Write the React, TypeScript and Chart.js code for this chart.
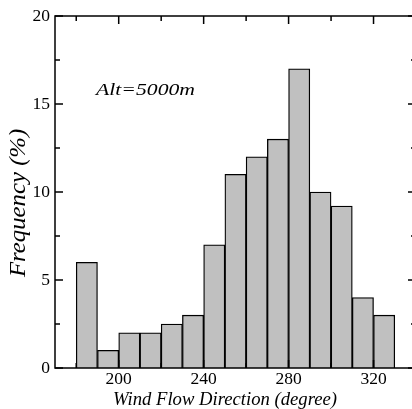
import { useEffect, useRef } from "react";
import { Chart, registerables } from "chart.js";

Chart.register(...registerables);

// ---- data ----
const binCenters = [185, 195, 205, 215, 225, 235, 245, 255, 265, 275, 285, 295, 305, 315, 325];
const frequency = [6, 1, 2, 2, 2.5, 3, 7, 11, 12, 13, 17, 10, 9.2, 4, 3];
const xTickLabels = [200, 240, 280, 320];
const xMinorTicks = [180, 220, 260, 300];
const yTickLabels = [0, 5, 10, 15, 20];
const yMinorTicks = [2.5, 7.5, 12.5, 17.5];
const xTitle = "Wind Flow Direction (degree)";
const yTitle = "Frequency (%)";
const annotation = "Alt=5000m";

const SERIF = "'Times New Roman', 'Liberation Serif', Times, serif";
Chart.defaults.font.family = SERIF;

function drawScaledText(
  ctx: CanvasRenderingContext2D,
  text: string,
  x: number,
  y: number,
  size: number,
  targetWidth: number | null,
  align: "left" | "center",
  measureText?: string
) {
  ctx.save();
  ctx.font = `italic ${size}px ${SERIF}`;
  ctx.fillStyle = "#000";
  ctx.textBaseline = "alphabetic";
  const w = ctx.measureText(measureText ?? text).width;
  const sx = targetWidth ? targetWidth / w : 1;
  ctx.translate(x, y);
  ctx.scale(sx, 1);
  ctx.textAlign = align;
  ctx.fillText(text, 0, 0);
  ctx.restore();
}

const framePlugin = {
  id: "frame",
  afterDraw(chart: any) {
    const { ctx, chartArea } = chart;
    const xs = chart.scales.x;
    const ys = chart.scales.y;
    const { left, right, top, bottom } = chartArea;
    ctx.save();
    ctx.strokeStyle = "#000";
    ctx.lineWidth = 1.5;
    ctx.strokeRect(left, top, right - left, bottom - top);
    ctx.beginPath();
    const major = 8;
    const minor = 5;
    for (const v of yTickLabels) {
      const p = ys.getPixelForValue(v);
      ctx.moveTo(left, p);
      ctx.lineTo(left + major, p);
      ctx.moveTo(right, p);
      ctx.lineTo(right - major, p);
    }
    for (const v of yMinorTicks) {
      const p = ys.getPixelForValue(v);
      ctx.moveTo(left, p);
      ctx.lineTo(left + minor, p);
      ctx.moveTo(right, p);
      ctx.lineTo(right - minor, p);
    }
    for (const v of xTickLabels) {
      const p = xs.getPixelForValue(v);
      ctx.moveTo(p, top);
      ctx.lineTo(p, top + major);
      ctx.moveTo(p, bottom);
      ctx.lineTo(p, bottom - major);
    }
    for (const v of xMinorTicks) {
      const p = xs.getPixelForValue(v);
      ctx.moveTo(p, top);
      ctx.lineTo(p, top + minor);
      ctx.moveTo(p, bottom);
      ctx.lineTo(p, bottom - minor);
    }
    ctx.stroke();
    ctx.restore();

    // annotation
    drawScaledText(ctx, annotation, 96, 94.5, 17, 99, "left");
    // x title
    drawScaledText(ctx, xTitle, 225, 404.5, 19, 224, "center");
    // y title (rotated)
    ctx.save();
    ctx.translate(25, 277);
    ctx.rotate(-Math.PI / 2);
    drawScaledText(ctx, yTitle, 0, 0, 23, 140, "left", "Frequency (%");
    ctx.restore();
  },
};

export default function App() {
  const ref = useRef<HTMLCanvasElement | null>(null);
  useEffect(() => {
    if (!ref.current) return;
    const chart = new Chart(ref.current, {
      type: "bar",
      data: {
        datasets: [
          {
            data: binCenters.map((x, i) => ({ x, y: frequency[i] })),
            backgroundColor: "#c0c0c0",
            borderColor: "#000",
            borderWidth: 1.3,
            borderSkipped: "bottom",
            barPercentage: 1,
            categoryPercentage: 1,
          } as any,
        ],
      },
      options: {
        animation: false,
        responsive: false,
        maintainAspectRatio: false,
        layout: { padding: { left: 0, top: 16, right: 2, bottom: 0 } },
        plugins: { legend: { display: false }, tooltip: { enabled: false } },
        scales: {
          x: {
            type: "linear",
            min: 170,
            max: 340,
            offset: false,
            grid: { display: false, drawTicks: false },
            border: { display: false },
            afterBuildTicks: (s: any) => {
              s.ticks = xTickLabels.map((v) => ({ value: v }));
            },
            afterFit: (s: any) => {
              s.height = 41;
            },
            ticks: {
              padding: 1,
              autoSkip: false,
              maxRotation: 0,
              color: "#000",
              font: { family: SERIF, size: 17.5 },
            },
          },
          y: {
            min: 0,
            max: 20,
            grid: { display: false, drawTicks: false },
            border: { display: false },
            afterBuildTicks: (s: any) => {
              s.ticks = yTickLabels.map((v) => ({ value: v }));
            },
            afterFit: (s: any) => {
              s.width = 55;
            },
            ticks: {
              padding: 5,
              autoSkip: false,
              color: "#000",
              font: { family: SERIF, size: 17.5 },
            },
          },
        },
      } as any,
      plugins: [framePlugin],
    });
    return () => chart.destroy();
  }, []);

  return (
    <div
      style={{
        position: "fixed",
        left: 0,
        top: 0,
        width: 412,
        height: 409,
        overflow: "hidden",
        background: "#fff",
      }}
    >
      <canvas ref={ref} width={418} height={409} style={{ display: "block", width: 418, height: 409 }} />
    </div>
  );
}
